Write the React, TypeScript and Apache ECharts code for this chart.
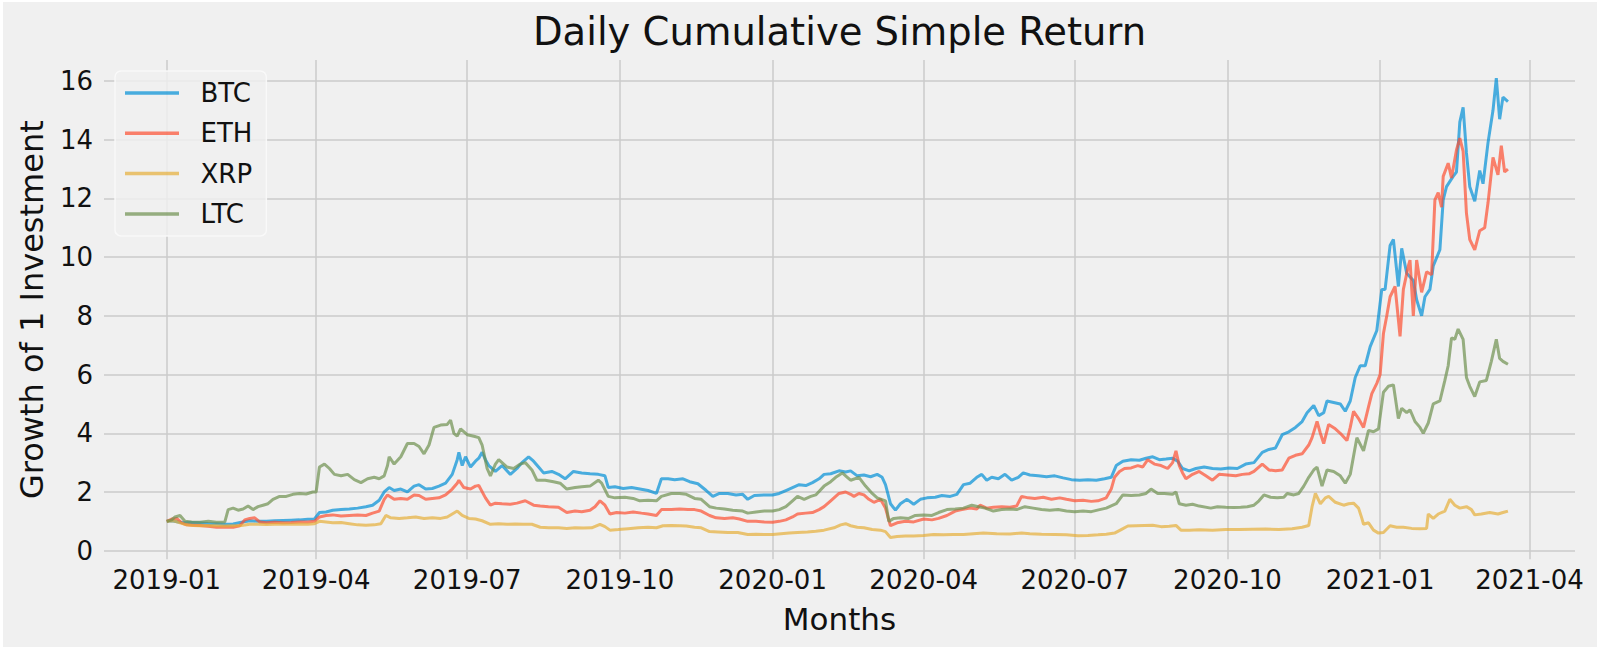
import React, { useEffect, useRef } from "react";
import * as echarts from "echarts";

// ---- data: [days since 2019-01-01, growth of 1 invested] ----
const START_DATE = "2019-01-01";
const SERIES_NAMES = ["BTC", "ETH", "XRP", "LTC"];
const SERIES_COLORS = [
  "rgba(0,143,213,0.7)",
  "rgba(252,79,48,0.7)",
  "rgba(229,174,56,0.7)",
  "rgba(109,144,79,0.7)",
];
const X_TICKS = [
  "2019-01-01", "2019-04-01", "2019-07-01", "2019-10-01", "2020-01-01",
  "2020-04-01", "2020-07-01", "2020-10-01", "2021-01-01", "2021-04-01",
];
const Y_TICKS = [0, 2, 4, 6, 8, 10, 12, 14, 16];

const btc: [number, number][] = [
  [0, 1.0], [3, 1.02], [7, 0.98], [10, 0.95], [15, 0.96], [20, 0.95], [25, 0.93], [30, 0.92],
  [35, 0.9], [40, 0.91], [45, 0.97], [50, 1.02], [55, 1.0], [60, 1.0], [65, 1.02], [70, 1.03],
  [75, 1.04], [80, 1.05], [85, 1.07], [89, 1.08], [92, 1.3], [96, 1.32], [100, 1.38], [105, 1.4],
  [110, 1.42], [115, 1.45], [120, 1.5], [124, 1.55], [128, 1.72], [131, 2.0], [134, 2.15], [137, 2.05],
  [141, 2.1], [145, 2.0], [149, 2.2], [152, 2.25], [156, 2.1], [160, 2.12], [164, 2.2], [168, 2.3],
  [172, 2.6], [175, 3.1], [176, 3.35], [178, 2.9], [180, 3.2], [183, 2.85], [186, 3.05], [188, 3.15],
  [190, 3.35], [192, 3.1], [194, 2.9], [198, 2.7], [202, 2.9], [207, 2.6], [211, 2.8], [214, 3.0],
  [218, 3.2], [221, 3.05], [224, 2.85], [227, 2.65], [232, 2.7], [236, 2.6], [240, 2.45], [245, 2.7],
  [250, 2.65], [255, 2.62], [260, 2.6], [264, 2.55], [266, 2.15], [270, 2.18], [275, 2.12], [280, 2.15],
  [285, 2.1], [290, 2.05], [295, 1.95], [298, 2.45], [302, 2.45], [306, 2.42], [311, 2.45], [315, 2.35],
  [320, 2.28], [325, 2.05], [329, 1.85], [333, 1.95], [338, 1.95], [343, 1.9], [347, 1.92], [350, 1.75],
  [354, 1.88], [360, 1.9], [365, 1.9], [369, 1.95], [373, 2.05], [377, 2.15], [381, 2.25], [385, 2.22],
  [389, 2.32], [393, 2.45], [396, 2.6], [400, 2.62], [405, 2.72], [409, 2.68], [412, 2.72], [416, 2.55],
  [420, 2.58], [424, 2.52], [428, 2.6], [431, 2.5], [433, 2.25], [436, 1.6], [439, 1.38], [442, 1.6],
  [446, 1.75], [450, 1.58], [454, 1.75], [458, 1.8], [463, 1.82], [467, 1.88], [472, 1.85], [476, 1.92],
  [480, 2.25], [484, 2.3], [488, 2.5], [491, 2.6], [494, 2.4], [497, 2.5], [501, 2.45], [505, 2.6],
  [509, 2.4], [513, 2.5], [516, 2.65], [520, 2.58], [525, 2.55], [530, 2.52], [535, 2.55], [540, 2.48],
  [545, 2.42], [550, 2.4], [555, 2.42], [560, 2.4], [565, 2.45], [569, 2.5], [572, 2.9], [576, 3.05],
  [581, 3.1], [586, 3.08], [590, 3.15], [594, 3.2], [598, 3.1], [602, 3.12], [606, 3.15], [609, 3.05],
  [612, 2.8], [616, 2.72], [620, 2.8], [625, 2.85], [630, 2.8], [635, 2.78], [640, 2.82], [645, 2.8],
  [650, 2.95], [655, 3.0], [660, 3.35], [664, 3.45], [668, 3.5], [672, 3.95], [676, 4.05], [680, 4.2],
  [684, 4.4], [687, 4.7], [691, 4.95], [694, 4.6], [697, 4.7], [699, 5.1], [703, 5.05], [707, 5.0],
  [710, 4.75], [713, 5.1], [716, 5.9], [719, 6.3], [722, 6.3], [725, 6.95], [729, 7.5], [732, 8.9],
  [734, 8.9], [737, 10.4], [739, 10.6], [742, 9.0], [744, 10.3], [747, 9.45], [751, 9.2], [753, 8.55],
  [756, 8.0], [758, 8.65], [761, 8.9], [763, 9.7], [767, 10.25], [769, 11.95], [771, 12.4], [775, 12.75],
  [777, 12.9], [779, 14.6], [781, 15.1], [783, 13.55], [785, 12.4], [788, 11.9], [791, 12.95], [793, 12.5],
  [796, 13.9], [799, 15.0], [801, 16.1], [803, 14.7], [805, 15.45], [808, 15.3],
];

const eth: [number, number][] = [
  [0, 1.0], [3, 1.08], [6, 1.1], [9, 0.95], [12, 0.88], [16, 0.87], [20, 0.86], [25, 0.83],
  [30, 0.8], [35, 0.81], [40, 0.8], [44, 0.85], [47, 1.05], [50, 1.1], [53, 1.12], [56, 0.98],
  [60, 0.95], [65, 0.97], [70, 0.95], [75, 0.96], [80, 0.98], [85, 0.98], [89, 1.0], [92, 1.15],
  [96, 1.2], [100, 1.22], [105, 1.18], [110, 1.2], [115, 1.22], [120, 1.2], [124, 1.28], [128, 1.35],
  [131, 1.75], [133, 1.9], [137, 1.75], [141, 1.78], [145, 1.75], [149, 1.9], [152, 1.88], [156, 1.75],
  [160, 1.78], [164, 1.8], [168, 1.9], [172, 2.1], [175, 2.3], [176, 2.4], [179, 2.15], [183, 2.1],
  [186, 2.2], [188, 2.22], [192, 1.8], [195, 1.55], [198, 1.62], [202, 1.6], [207, 1.58], [211, 1.62],
  [216, 1.7], [221, 1.55], [225, 1.52], [230, 1.5], [236, 1.48], [241, 1.3], [246, 1.35], [250, 1.33],
  [255, 1.38], [258, 1.5], [261, 1.7], [264, 1.55], [267, 1.25], [271, 1.3], [276, 1.28], [281, 1.32],
  [286, 1.28], [290, 1.25], [295, 1.2], [298, 1.4], [304, 1.4], [309, 1.42], [314, 1.4], [318, 1.4],
  [322, 1.35], [327, 1.2], [331, 1.12], [336, 1.1], [341, 1.12], [345, 1.08], [350, 1.0], [355, 1.0],
  [360, 0.98], [365, 0.97], [369, 1.0], [373, 1.05], [377, 1.15], [380, 1.25], [385, 1.28], [389, 1.3],
  [393, 1.4], [396, 1.5], [400, 1.7], [405, 1.95], [409, 2.0], [412, 1.92], [414, 1.85], [417, 1.95],
  [420, 1.9], [423, 1.75], [426, 1.65], [430, 1.75], [433, 1.45], [436, 0.85], [440, 0.95], [445, 1.0],
  [450, 0.98], [456, 1.08], [461, 1.05], [465, 1.1], [470, 1.2], [475, 1.35], [479, 1.4], [484, 1.45],
  [488, 1.42], [490, 1.55], [494, 1.45], [498, 1.48], [503, 1.5], [508, 1.48], [512, 1.52], [515, 1.85],
  [519, 1.8], [523, 1.78], [528, 1.82], [533, 1.75], [538, 1.8], [542, 1.75], [547, 1.7], [552, 1.72],
  [557, 1.68], [561, 1.7], [566, 1.8], [569, 2.1], [571, 2.5], [574, 2.7], [577, 2.8], [581, 2.82],
  [585, 2.9], [588, 2.85], [591, 3.1], [595, 2.95], [599, 2.9], [603, 2.8], [606, 3.0], [608, 3.4],
  [610, 2.9], [612, 2.65], [614, 2.45], [618, 2.6], [622, 2.7], [626, 2.55], [630, 2.4], [634, 2.6],
  [639, 2.58], [644, 2.55], [648, 2.6], [652, 2.62], [655, 2.7], [660, 2.95], [664, 2.75], [668, 2.72],
  [672, 2.75], [676, 3.15], [680, 3.25], [684, 3.3], [688, 3.6], [690, 3.85], [693, 4.4], [695, 4.0],
  [697, 3.65], [700, 4.3], [704, 4.15], [707, 4.0], [711, 3.75], [713, 4.2], [715, 4.75], [718, 4.5],
  [721, 4.2], [724, 4.9], [726, 5.35], [729, 5.7], [731, 6.0], [733, 7.4], [735, 8.0], [737, 8.65],
  [740, 9.0], [743, 7.3], [745, 8.9], [748, 9.7], [749, 9.9], [751, 8.0], [753, 9.9], [756, 8.8],
  [759, 9.5], [762, 9.4], [764, 11.95], [766, 12.2], [768, 11.7], [769, 12.75], [772, 13.2], [774, 12.7],
  [777, 13.65], [779, 14.05], [781, 13.6], [783, 11.5], [785, 10.6], [788, 10.25], [791, 10.9], [794, 11.0],
  [796, 11.85], [799, 13.4], [802, 12.8], [804, 13.8], [806, 12.9], [808, 13.0],
];

const xrp: [number, number][] = [
  [0, 1.0], [4, 1.02], [8, 0.95], [12, 0.88], [16, 0.86], [20, 0.85], [25, 0.86], [30, 0.85],
  [35, 0.84], [40, 0.85], [45, 0.86], [50, 0.9], [55, 0.9], [60, 0.89], [65, 0.9], [70, 0.91],
  [75, 0.9], [80, 0.91], [85, 0.9], [89, 0.92], [92, 1.0], [96, 0.98], [100, 0.95], [105, 0.96],
  [110, 0.92], [115, 0.88], [120, 0.87], [125, 0.88], [129, 0.92], [132, 1.2], [135, 1.12], [140, 1.1],
  [145, 1.12], [150, 1.15], [155, 1.1], [160, 1.12], [165, 1.1], [169, 1.15], [172, 1.25], [175, 1.35],
  [178, 1.2], [182, 1.1], [186, 1.08], [190, 1.02], [195, 0.9], [200, 0.92], [205, 0.9], [210, 0.91],
  [215, 0.9], [220, 0.9], [225, 0.8], [230, 0.78], [236, 0.78], [241, 0.76], [246, 0.78], [251, 0.77],
  [256, 0.78], [261, 0.9], [264, 0.82], [267, 0.7], [272, 0.72], [278, 0.75], [284, 0.78], [290, 0.8],
  [295, 0.78], [299, 0.85], [304, 0.86], [309, 0.85], [313, 0.84], [318, 0.8], [322, 0.78], [327, 0.65],
  [332, 0.64], [338, 0.62], [344, 0.62], [350, 0.55], [355, 0.56], [360, 0.55], [365, 0.55], [370, 0.58],
  [375, 0.6], [380, 0.62], [386, 0.64], [391, 0.66], [396, 0.7], [402, 0.78], [406, 0.88], [409, 0.92],
  [412, 0.85], [416, 0.8], [420, 0.78], [425, 0.72], [430, 0.7], [433, 0.65], [436, 0.45], [440, 0.48],
  [445, 0.5], [450, 0.5], [456, 0.52], [462, 0.55], [468, 0.54], [474, 0.55], [480, 0.55], [486, 0.58],
  [492, 0.6], [500, 0.58], [508, 0.57], [515, 0.6], [520, 0.58], [527, 0.56], [535, 0.55], [542, 0.54],
  [549, 0.51], [555, 0.52], [561, 0.54], [566, 0.56], [571, 0.6], [575, 0.72], [579, 0.84], [584, 0.85],
  [589, 0.86], [594, 0.87], [599, 0.82], [604, 0.83], [608, 0.86], [611, 0.7], [616, 0.7], [622, 0.71],
  [630, 0.7], [638, 0.72], [646, 0.72], [654, 0.73], [662, 0.74], [670, 0.72], [678, 0.75], [684, 0.8],
  [688, 0.86], [690, 1.5], [692, 1.95], [695, 1.6], [698, 1.8], [700, 1.85], [704, 1.65], [709, 1.55],
  [712, 1.6], [715, 1.62], [718, 1.45], [720, 1.1], [721, 0.9], [724, 0.95], [727, 0.7], [730, 0.6],
  [733, 0.62], [737, 0.85], [741, 0.8], [745, 0.8], [750, 0.76], [755, 0.75], [759, 0.76], [760, 1.25],
  [763, 1.1], [766, 1.25], [770, 1.35], [773, 1.75], [776, 1.55], [779, 1.45], [783, 1.5], [786, 1.4],
  [788, 1.22], [792, 1.25], [797, 1.3], [802, 1.25], [805, 1.3], [808, 1.35],
];

const ltc: [number, number][] = [
  [0, 1.0], [3, 1.05], [5, 1.15], [8, 1.2], [11, 1.0], [15, 0.98], [20, 0.97], [25, 1.0],
  [30, 0.97], [35, 0.98], [37, 1.4], [40, 1.45], [43, 1.38], [46, 1.42], [49, 1.52], [52, 1.4],
  [55, 1.5], [58, 1.55], [61, 1.6], [64, 1.75], [68, 1.85], [72, 1.85], [76, 1.92], [80, 1.95],
  [84, 1.93], [88, 2.0], [90, 2.0], [92, 2.85], [95, 2.95], [98, 2.8], [101, 2.6], [105, 2.55],
  [109, 2.6], [113, 2.42], [117, 2.32], [121, 2.45], [125, 2.5], [128, 2.45], [131, 2.55], [133, 2.9],
  [134, 3.2], [137, 2.95], [141, 3.2], [145, 3.65], [149, 3.65], [152, 3.55], [155, 3.3], [158, 3.6],
  [161, 4.2], [165, 4.28], [169, 4.3], [171, 4.45], [173, 4.0], [175, 3.9], [177, 4.15], [181, 3.95],
  [185, 3.9], [188, 3.85], [190, 3.6], [193, 2.8], [195, 2.55], [198, 2.95], [200, 3.1], [205, 2.85],
  [209, 2.8], [213, 2.95], [216, 3.0], [220, 2.75], [223, 2.4], [228, 2.4], [233, 2.35], [237, 2.3],
  [241, 2.1], [246, 2.15], [250, 2.18], [255, 2.2], [260, 2.4], [262, 2.3], [266, 1.85], [270, 1.8],
  [276, 1.82], [281, 1.78], [285, 1.7], [290, 1.72], [295, 1.7], [298, 1.85], [304, 1.95], [309, 1.95],
  [313, 1.92], [318, 1.78], [322, 1.75], [327, 1.5], [331, 1.45], [336, 1.42], [341, 1.38], [347, 1.35],
  [350, 1.28], [355, 1.32], [360, 1.35], [365, 1.35], [369, 1.4], [373, 1.5], [377, 1.7], [380, 1.85],
  [384, 1.75], [388, 1.85], [391, 1.9], [396, 2.2], [400, 2.35], [403, 2.5], [407, 2.65], [410, 2.5],
  [412, 2.4], [417, 2.5], [421, 2.2], [425, 1.95], [428, 1.8], [433, 1.7], [435, 1.0], [438, 1.1],
  [442, 1.12], [447, 1.1], [451, 1.2], [456, 1.22], [461, 1.2], [465, 1.3], [470, 1.4], [475, 1.42],
  [480, 1.45], [485, 1.55], [489, 1.5], [493, 1.45], [498, 1.35], [503, 1.4], [508, 1.42], [512, 1.4],
  [517, 1.5], [522, 1.45], [527, 1.4], [532, 1.38], [537, 1.4], [542, 1.35], [547, 1.33], [552, 1.35],
  [557, 1.33], [562, 1.4], [566, 1.45], [572, 1.6], [576, 1.9], [581, 1.88], [586, 1.9], [590, 1.95],
  [593, 2.1], [597, 1.95], [601, 1.95], [606, 1.92], [608, 2.0], [610, 1.6], [614, 1.55], [618, 1.58],
  [622, 1.52], [629, 1.45], [633, 1.5], [638, 1.48], [643, 1.47], [647, 1.48], [651, 1.5], [655, 1.55],
  [658, 1.7], [661, 1.9], [665, 1.82], [669, 1.8], [673, 1.82], [675, 1.95], [679, 1.9], [682, 1.95],
  [685, 2.2], [688, 2.5], [691, 2.75], [693, 2.85], [696, 2.2], [699, 2.75], [703, 2.7], [707, 2.55],
  [710, 2.3], [713, 2.6], [717, 3.85], [721, 3.4], [724, 4.1], [727, 4.05], [730, 4.15], [733, 5.4],
  [736, 5.6], [739, 5.65], [742, 4.5], [744, 4.85], [747, 4.7], [749, 4.8], [752, 4.4], [755, 4.2],
  [757, 4.0], [760, 4.35], [763, 5.0], [767, 5.1], [770, 5.8], [772, 6.3], [774, 7.25], [776, 7.2],
  [778, 7.55], [781, 7.2], [783, 5.9], [785, 5.6], [788, 5.25], [791, 5.75], [795, 5.8], [798, 6.45],
  [801, 7.2], [803, 6.55], [805, 6.45], [808, 6.35],
];

const SERIES_DATA = [btc, eth, xrp, ltc];

const DAY_MS = 86400000;
const START_MS = Date.parse(START_DATE);
const toTime = (d: number) => START_MS + d * DAY_MS;
const FONT = "DejaVu Sans";
const TEXT_COLOR = "#111";

export default function App() {
  const ref = useRef<HTMLDivElement>(null);

  useEffect(() => {
    document.body.style.margin = "0";
    if (!ref.current) return;
    const chart = echarts.init(ref.current, null, { renderer: "svg" });
    const xTickValues = X_TICKS.map((s) => Date.parse(s));
    const option: any = {
      animation: false,
      backgroundColor: "#ffffff",
      graphic: [
        {
          type: "rect",
          z: -100,
          silent: true,
          shape: { x: 3, y: 2, width: 1594, height: 645 },
          style: { fill: "#f0f0f0" },
        },
      ],
      title: {
        text: "Daily Cumulative Simple Return",
        left: 839.5,
        top: 11.5,
        padding: 0,
        textAlign: "center",
        textStyle: {
          fontFamily: FONT,
          fontSize: 38.5,
          lineHeight: 39,
          fontWeight: "normal",
          color: TEXT_COLOR,
        },
      },
      legend: {
        orient: "vertical",
        left: 115,
        top: 71,
        padding: [8, 14, 8, 10],
        itemWidth: 54,
        itemHeight: 3.5,
        itemGap: 12.3,
        icon: "rect",
        backgroundColor: "rgba(240,240,240,0.8)",
        borderColor: "rgba(250,250,250,0.9)",
        borderWidth: 1.5,
        borderRadius: 6,
        data: SERIES_NAMES,
        textStyle: {
          fontFamily: FONT,
          fontSize: 26,
          lineHeight: 28,
          color: TEXT_COLOR,
          padding: [0, 0, 0, 16.5],
        },
      },
      grid: {
        left: 104,
        right: 25,
        top: 60,
        bottom: 89.7,
        outerBoundsMode: "none",
      },
      xAxis: {
        type: "value",
        min: toTime(-37.8),
        max: toTime(848.4),
        name: "Months",
        nameLocation: "middle",
        nameGap: 44.5,
        nameTextStyle: { fontFamily: FONT, fontSize: 31, lineHeight: 31, color: TEXT_COLOR },
        axisLine: { show: false },
        axisTick: { show: false, customValues: xTickValues },
        axisLabel: {
          customValues: xTickValues,
          margin: 8,
          fontFamily: FONT,
          fontSize: 26,
          lineHeight: 26,
          color: TEXT_COLOR,
          hideOverlap: false,
          formatter: (v: number) => {
            const d = new Date(v);
            return d.getUTCFullYear() + "-" + String(d.getUTCMonth() + 1).padStart(2, "0");
          },
        },
        splitLine: { show: true, lineStyle: { color: "#cbcbcb", width: 1.5 } },
      },
      yAxis: {
        type: "value",
        min: -0.293,
        max: 16.715,
        name: "Growth of 1 Investment",
        nameLocation: "middle",
        nameGap: 56,
        nameTextStyle: { fontFamily: FONT, fontSize: 32, lineHeight: 32, color: TEXT_COLOR },
        axisLine: { show: false },
        axisTick: { show: false, customValues: Y_TICKS },
        axisLabel: {
          customValues: Y_TICKS,
          margin: 11,
          fontFamily: FONT,
          fontSize: 26,
          lineHeight: 26,
          color: TEXT_COLOR,
        },
        splitLine: { show: true, lineStyle: { color: "#cbcbcb", width: 1.5 } },
      },
      series: SERIES_NAMES.map((name, i) => ({
        name,
        type: "line",
        showSymbol: false,
        symbol: "none",
        color: SERIES_COLORS[i],
        lineStyle: { width: 3, color: SERIES_COLORS[i] },
        itemStyle: { color: SERIES_COLORS[i] },
        data: SERIES_DATA[i].map(([d, v]) => [toTime(d), v]),
      })),
    };
    chart.setOption(option);
    return () => chart.dispose();
  }, []);

  return (
    <div
      ref={ref}
      style={{ position: "fixed", left: 0, top: 0, width: 1600, height: 649 }}
    />
  );
}
